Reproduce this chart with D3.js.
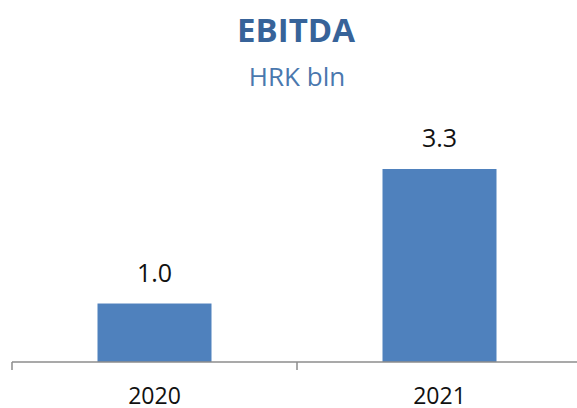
<!DOCTYPE html>
<html>
<head>
<meta charset="utf-8">
<script src="https://cdn.jsdelivr.net/npm/d3@7"></script>
<style>
  body { margin: 0; background: #fff; }
  text { font-family: "Open Sans", "Liberation Sans", sans-serif; }
</style>
</head>
<body>
<div class="chart"></div>
<script>
var years = ["2020", "2021"];
var ebitda = [1.0, 3.3];
var valueLabels = ["1.0", "3.3"];

var width = 577, height = 408;
var baseY = 362;

var svg = d3.select(".chart")
  .append("svg")
    .attr("width", width)
    .attr("height", height);

// title
svg.append("text")
  .attr("x", 296)
  .attr("y", 42)
  .attr("text-anchor", "middle")
  .style("font-size", "33px")
  .style("font-weight", "bold")
  .style("fill", "#376399")
  .text("EBITDA");

svg.append("text")
  .attr("x", 297)
  .attr("y", 86)
  .attr("text-anchor", "middle")
  .style("font-size", "26px")
  .style("fill", "#4a78ae")
  .text("HRK bln");

// x scale - bands from the left tick to past the right edge
var x = d3.scaleBand()
  .domain(years)
  .range([12, 582])
  .paddingInner(0)
  .paddingOuter(0);

var y = d3.scaleLinear()
  .domain([0, 3.3])
  .range([baseY, 169]);

var barW = x.bandwidth() * 0.4;

svg.selectAll(".bar")
  .data(ebitda)
  .enter()
  .append("rect")
    .attr("class", "bar")
    .attr("x", function(d, i) { return x(years[i]) + (x.bandwidth() - barW) / 2; })
    .attr("y", function(d) { return y(d); })
    .attr("width", barW)
    .attr("height", function(d) { return baseY - y(d); })
    .style("fill", "#4f81bd");

svg.selectAll(".val")
  .data(ebitda)
  .enter()
  .append("text")
    .attr("class", "val")
    .attr("x", function(d, i) { return x(years[i]) + x.bandwidth() / 2; })
    .attr("y", function(d) { return y(d) - 22; })
    .attr("text-anchor", "middle")
    .style("font-size", "25px")
    .style("fill", "#111")
    .text(function(d, i) { return valueLabels[i]; });

// axis
var axis = svg.append("g")
  .attr("transform", "translate(0," + baseY + ")")
  .call(d3.axisBottom(x).tickSize(0));

axis.select(".domain").remove();
axis.append("line")
  .attr("x1", 12).attr("x2", width)
  .attr("y1", 0).attr("y2", 0)
  .attr("stroke", "#8c8c8c")
  .attr("stroke-width", 1.5);

// tick marks on band boundaries
var bounds = [12].concat(years.slice(1).map(function(d) { return x(d); }));
axis.selectAll(".bt")
  .data(bounds)
  .enter()
  .append("line")
    .attr("class", "bt")
    .attr("x1", function(d) { return d; })
    .attr("x2", function(d) { return d; })
    .attr("y1", 0).attr("y2", 8)
    .attr("stroke", "#8c8c8c")
    .attr("stroke-width", 1.5);

axis.selectAll(".tick text")
  .attr("y", 42)
  .attr("dy", null)
  .style("font-size", "23px")
  .style("font-family", "'Open Sans', 'Liberation Sans', sans-serif")
  .style("fill", "#111");
</script>
</body>
</html>
